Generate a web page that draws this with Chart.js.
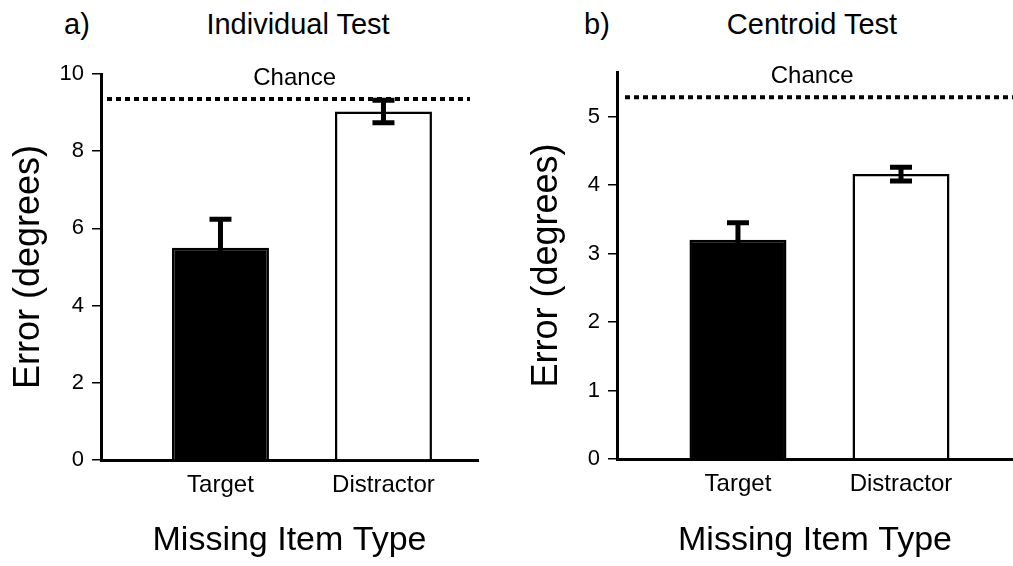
<!DOCTYPE html>
<html>
<head>
<meta charset="utf-8">
<script src="https://cdn.jsdelivr.net/npm/chart.js@4.4.1/dist/chart.umd.min.js"></script>
<style>
  body { margin: 0; background: #fff; width: 1013px; height: 566px; position: relative; overflow: hidden;
         font-family: "Liberation Sans", Arial, Helvetica, sans-serif; }
  canvas { position: absolute; top: 0; }
  .title { position: absolute; top: 7px; font-size: 29px; line-height: 34px; color: #000; white-space: nowrap; }
</style>
</head>
<body>
<div class="title" style="left:64px">a)</div>
<div class="title" style="left:298px; transform:translateX(-50%)">Individual Test</div>
<div class="title" style="left:584px">b)</div>
<div class="title" style="left:812px; transform:translateX(-50%)">Centroid Test</div>
<canvas id="chart-a" width="500" height="566" style="left:0"></canvas>
<canvas id="chart-b" width="513" height="566" style="left:500px"></canvas>
<script>
const FONT = '"Liberation Sans", Arial, Helvetica, sans-serif';

// data
const categories = ['Target', 'Distractor'];
const individualMeans = [5.50, 9.03];
const individualErrors = [0.74, 0.29];
const individualChance = 9.35;
const centroidMeans = [3.20, 4.16];
const centroidErrors = [0.25, 0.10];
const centroidChance = 5.28;
const barColors = ['#000000', '#ffffff'];

// dotted "chance" line + label
const chancePlugin = {
    id: 'chanceLine',
    beforeDatasetsDraw(chart, args, opts) {
        const ctx = chart.ctx;
        const area = chart.chartArea;
        const y = chart.scales.y.getPixelForValue(opts.value);
        const x0 = area.left + opts.startGap;
        const x1 = area.right - opts.endGap;
        ctx.save();
        ctx.strokeStyle = '#000';
        ctx.lineWidth = 4;
        ctx.setLineDash([5, 4]);
        ctx.beginPath();
        ctx.moveTo(x0, y);
        ctx.lineTo(x1, y);
        ctx.stroke();
        ctx.setLineDash([]);
        ctx.fillStyle = '#000';
        ctx.font = '24px ' + FONT;
        ctx.textAlign = 'center';
        ctx.textBaseline = 'middle';
        ctx.fillText('Chance', chart.scales.x.getPixelForValue(opts.labelAt), y - 21);
        ctx.restore();
    }
};

// error bars (mean +/- sem)
const errorBarPlugin = {
    id: 'errorBars',
    afterDatasetsDraw(chart, args, opts) {
        const ctx = chart.ctx;
        const ys = chart.scales.y;
        const meta = chart.getDatasetMeta(0);
        meta.data.forEach(function (bar, i) {
            const m = chart.data.datasets[0].data[i].y;
            const e = opts.errors[i];
            const yTop = ys.getPixelForValue(m + e);
            const yBot = ys.getPixelForValue(m - e);
            ctx.save();
            ctx.strokeStyle = '#000';
            ctx.lineWidth = 5;
            ctx.beginPath();
            ctx.moveTo(bar.x, yTop);
            ctx.lineTo(bar.x, yBot);
            ctx.moveTo(bar.x - 11, yTop);
            ctx.lineTo(bar.x + 11, yTop);
            ctx.moveTo(bar.x - 11, yBot);
            ctx.lineTo(bar.x + 11, yBot);
            ctx.stroke();
            ctx.restore();
        });
    }
};

function drawPanel(id, means, errors, chance, cfg) {
    const data = {
        datasets: [{
            data: means.map(function (v, i) { return { x: i + 1, y: v }; }),
            backgroundColor: barColors,
            borderColor: '#000',
            borderWidth: 2.5,
            barPercentage: 0.595,
            categoryPercentage: 1.0
        }]
    };

    const options = {
        responsive: false,
        animation: false,
        layout: { padding: { top: cfg.top, right: cfg.right, bottom: 0, left: 0 } },
        scales: {
            x: {
                type: 'linear',
                offset: false,
                min: cfg.xMin,
                max: cfg.xMax,
                afterBuildTicks: function (s) { s.ticks = categories.map(function (c, i) { return { value: i + 1 }; }); },
                afterFit: function (s) { s.height = cfg.xHeight; },
                ticks: {
                    callback: function (v) { return categories[v - 1]; },
                    font: { size: 24, family: FONT },
                    color: '#000',
                    padding: 11,
                    maxRotation: 0,
                    autoSkip: false
                },
                grid: { display: false, drawTicks: false },
                border: { color: '#000', width: 3 },
                title: {
                    display: true,
                    text: 'Missing Item Type',
                    color: '#000',
                    font: { size: 34, family: FONT },
                    padding: { top: 0, bottom: 5 }
                }
            },
            y: {
                min: 0,
                max: cfg.yMax,
                afterFit: function (s) { s.width = cfg.yWidth; },
                ticks: {
                    stepSize: cfg.step,
                    includeBounds: false,
                    font: { size: 22, family: FONT },
                    color: '#000',
                    padding: 8
                },
                grid: { drawOnChartArea: false, drawTicks: true, tickLength: 9, color: '#000', lineWidth: 1.5 },
                border: { color: '#000', width: 3 },
                title: {
                    display: true,
                    text: 'Error (degrees)',
                    color: '#000',
                    font: { size: 36, family: FONT },
                    padding: { top: cfg.yTitlePad, bottom: 0 }
                }
            }
        },
        plugins: {
            legend: { display: false },
            tooltip: { enabled: false },
            chanceLine: { value: chance, startGap: cfg.startGap, endGap: cfg.endGap, labelAt: 1.455 },
            errorBars: { errors: errors }
        }
    };

    const ctx = document.getElementById(id).getContext('2d');
    return new Chart(ctx, {
        type: 'bar',
        data: data,
        options: options,
        plugins: [chancePlugin, errorBarPlugin]
    });
}

drawPanel('chart-a', individualMeans, individualErrors, individualChance, {
    top: 74, right: 22, xMin: 0.267, xMax: 2.58, yMax: 10, step: 2,
    yWidth: 101, xHeight: 106, yTitlePad: 7, startGap: 6, endGap: 8
});
drawPanel('chart-b', centroidMeans, centroidErrors, centroidChance, {
    top: 72, right: 0, xMin: 0.258, xMax: 2.687, yMax: 5.65, step: 1,
    yWidth: 117, xHeight: 107, yTitlePad: 25, startGap: 8, endGap: 0
});
</script>
</body>
</html>
